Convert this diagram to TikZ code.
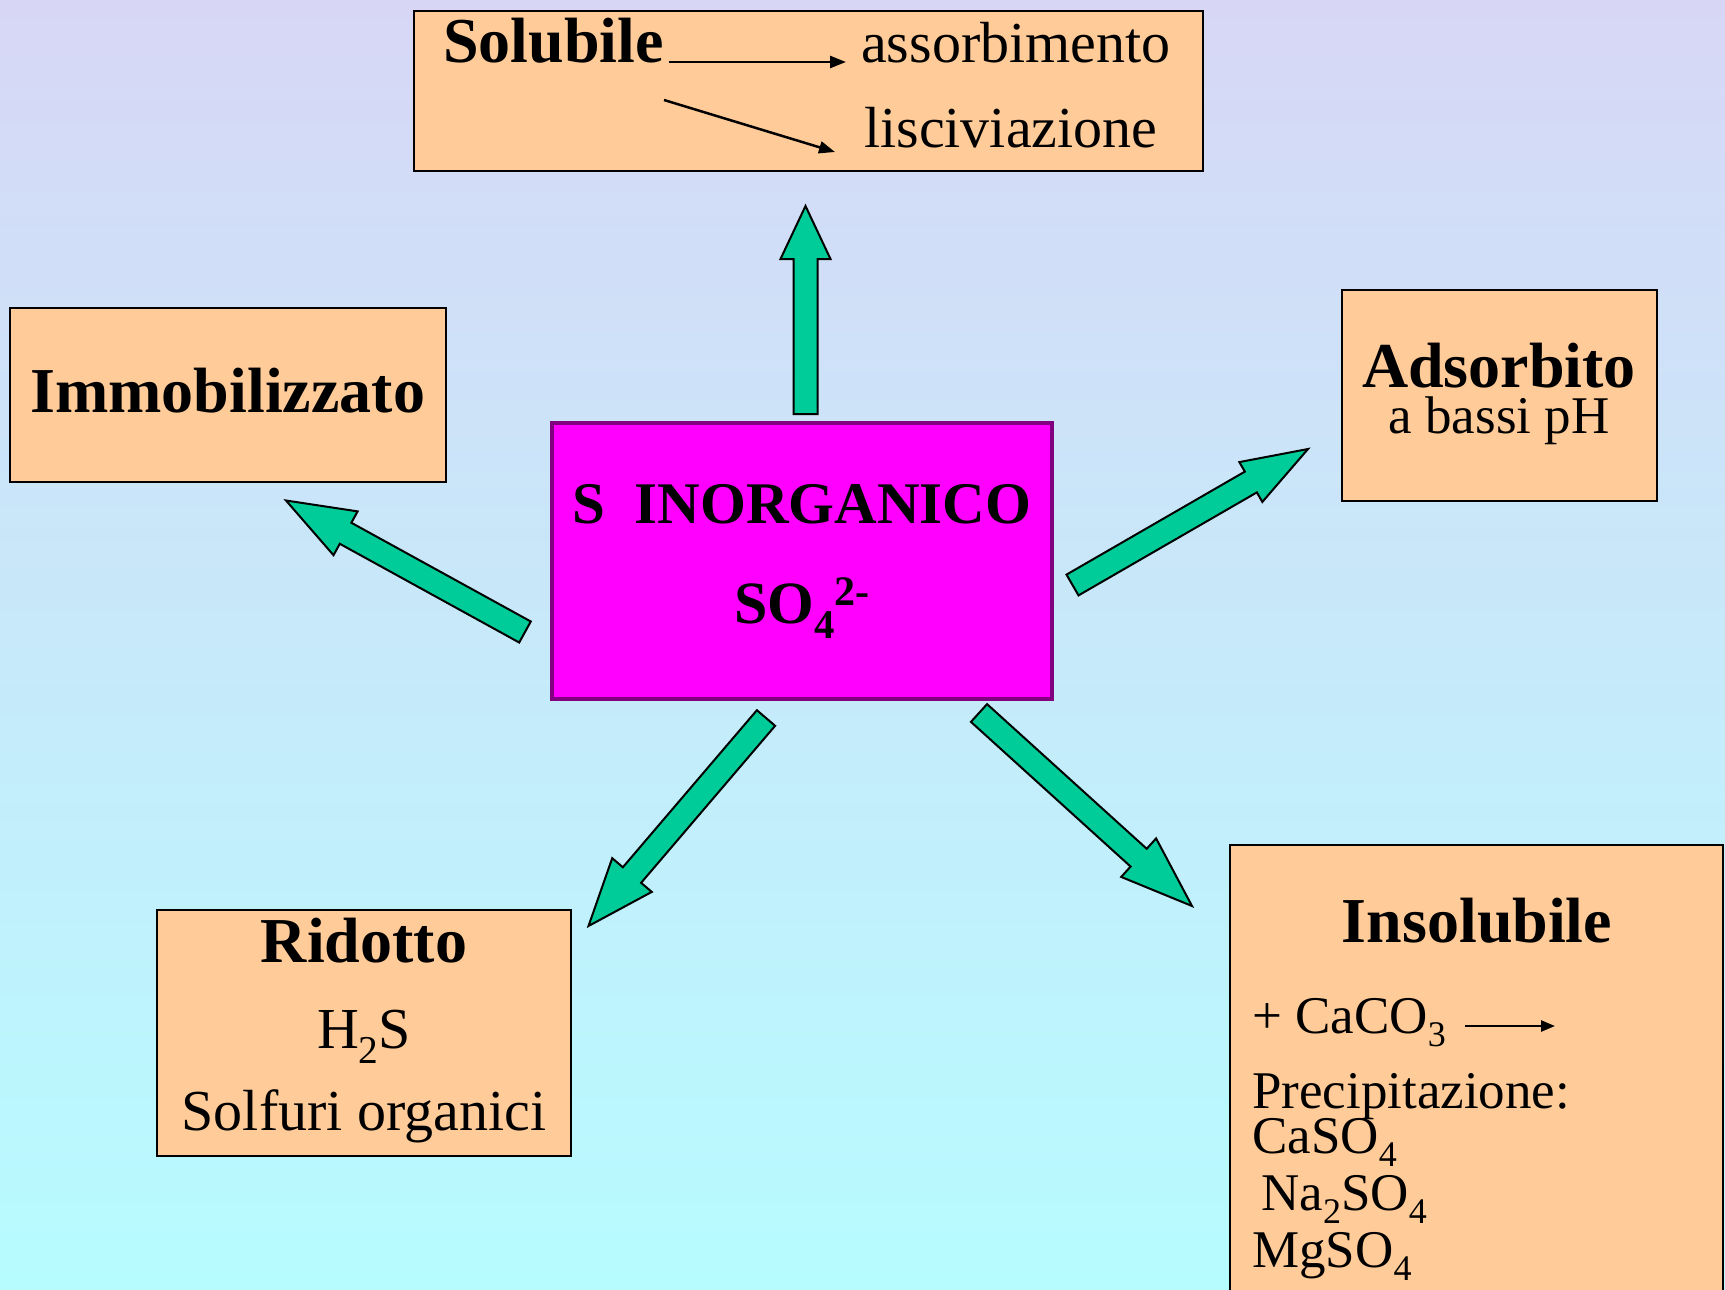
\documentclass[tikz,border=0pt]{standalone}
\usepackage{fontspec}
\setmainfont{Liberation Serif}
\usetikzlibrary{calc,arrows.meta}
\definecolor{bgtop}{RGB}{215,215,245}
\definecolor{bgbot}{RGB}{182,252,255}
\definecolor{peach}{RGB}{255,204,153}
\definecolor{arrgreen}{RGB}{0,204,153}
\definecolor{magbox}{RGB}{255,0,255}
\definecolor{purpborder}{RGB}{128,0,128}
\newcommand\mysub[1]{\raisebox{-0.26em}{\scalebox{0.68}{#1}}}
\newcommand\mysup[1]{\raisebox{0.3em}{\scalebox{0.7}{#1}}}
% #1 tail, #2 tip, #3 head length, #4 head half width
\newcommand\blockarrow[4]{%
  \path ($(#2)!#3!(#1)$) coordinate (bah);
  \draw[bigarrow] ($(#1)!12pt!90:(#2)$) -- ($(bah)!12pt!90:(#2)$) -- ($(bah)!#4!90:(#2)$) -- (#2)
    -- ($(bah)!#4!-90:(#2)$) -- ($(bah)!12pt!-90:(#2)$) -- ($(#1)!12pt!-90:(#2)$) -- cycle;}
\begin{document}
\begin{tikzpicture}[x=1pt,y=-1pt,
  box/.style={draw=black, line width=2pt, fill=peach, inner sep=0pt, outer sep=0pt, anchor=north west},
  bigarrow/.style={draw=black, line width=2pt, fill=arrgreen, line join=miter},
  thinarrow/.style={draw=black, line width=2.5pt, -{Triangle[length=16pt,width=12pt]}},
  tb/.style={inner sep=0pt, font=\fontsize{64}{64}\bfseries\selectfont},
  tr/.style={inner sep=0pt, font=\fontsize{58}{58}\selectfont},
  ts/.style={inner sep=0pt, font=\fontsize{53}{53}\selectfont}]
\useasboundingbox (0,0) rectangle (1725,1290);
\clip (0,0) rectangle (1725,1290);
\shade[top color=bgtop, bottom color=bgbot] (0,0) rectangle (1725,1290);

% boxes
\node[box, minimum width=789pt, minimum height=160pt] (sol) at (413.6,11) {};
\node[box, minimum width=436pt, minimum height=174pt] (imm) at (9.5,307.5) {};
\node[box, minimum width=315pt, minimum height=211pt] (ads) at (1341.5,290) {};
\node[box, minimum width=414pt, minimum height=246pt] (rid) at (157,910) {};
\node[box, minimum width=493pt, minimum height=480pt] (ins) at (1230,845) {};
\node[box, draw=purpborder, fill=magbox, line width=4pt, minimum width=500pt, minimum height=276pt] (cen) at (552,422.5) {};

% Solubile box texts
\node[tb, anchor=base west] (soltxt) at (443,63) {Solubile};
\node[tr, anchor=base west] (assorb) at (861,63) {assorbimento};
\node[tr, anchor=base west] (lisc) at (864,147) {lisciviazione};
\coordinate (a1s) at (669,62);
\coordinate (a1e) at (846,62);
\coordinate (a2s) at (664,100);
\coordinate (a2e) at (835,152);
\draw[thinarrow] (a1s) -- (a1e);
\draw[thinarrow] (a2s) -- (a2e);

% other texts
\node[tb, anchor=base] (immtxt) at (227.7,412) {Immobilizzato};
\node[tb, anchor=base] (adstxt) at (1499,387) {Adsorbito};
\node[ts, anchor=base] (adssub) at (1499,433) {a bassi pH};

\node[inner sep=0pt, anchor=base, font=\fontsize{59}{59}\bfseries\selectfont] (cen1) at (802,523) {S\hspace{0.5em}INORGANICO};
\node[inner sep=0pt, anchor=base, font=\fontsize{60}{60}\bfseries\selectfont] (cen2) at (802,623) {SO\mysub{4}\mysup{2-}};

\node[tb, anchor=base] (ridtxt) at (364,962) {Ridotto};
\node[tr, anchor=base] (h2s) at (364,1048) {H\mysub{2}S};
\node[tr, anchor=base] (solf) at (364,1130) {Solfuri organici};

\node[tb, anchor=base] (instxt) at (1477,942) {Insolubile};
\node[ts, anchor=base west] (caco) at (1252,1033) {+ CaCO\mysub{3}};
\coordinate (a3s) at (1465,1026);
\coordinate (a3e) at (1555,1026);
\draw[black, line width=2.5pt, -{Triangle[length=14pt,width=11pt]}] (a3s) -- (a3e);
\node[ts, anchor=base west] (prec) at (1252,1108) {Precipitazione:};
\node[ts, anchor=base west] (caso) at (1252,1153) {CaSO\mysub{4}};
\node[ts, anchor=base west] (naso) at (1261,1210) {Na\mysub{2}SO\mysub{4}};
\node[ts, anchor=base west] (mgso) at (1252,1267) {MgSO\mysub{4}};

% big green arrows
\coordinate (upT) at (805.5,414);
\coordinate (upH) at (805.5,206);
\coordinate (imT) at (525,632);
\coordinate (imH) at (286,500.5);
\coordinate (adT) at (1072.5,585);
\coordinate (adH) at (1308,449);
\coordinate (riT) at (766,718);
\coordinate (riH) at (588.5,926);
\coordinate (inT) at (979,713);
\coordinate (inH) at (1192,906);
\blockarrow{upT}{upH}{53pt}{25pt}
\blockarrow{imT}{imH}{68pt}{25pt}
\blockarrow{adT}{adH}{66pt}{23pt}
\blockarrow{riT}{riH}{67pt}{26pt}
\blockarrow{inT}{inH}{72pt}{26pt}
\end{tikzpicture}
\end{document}
